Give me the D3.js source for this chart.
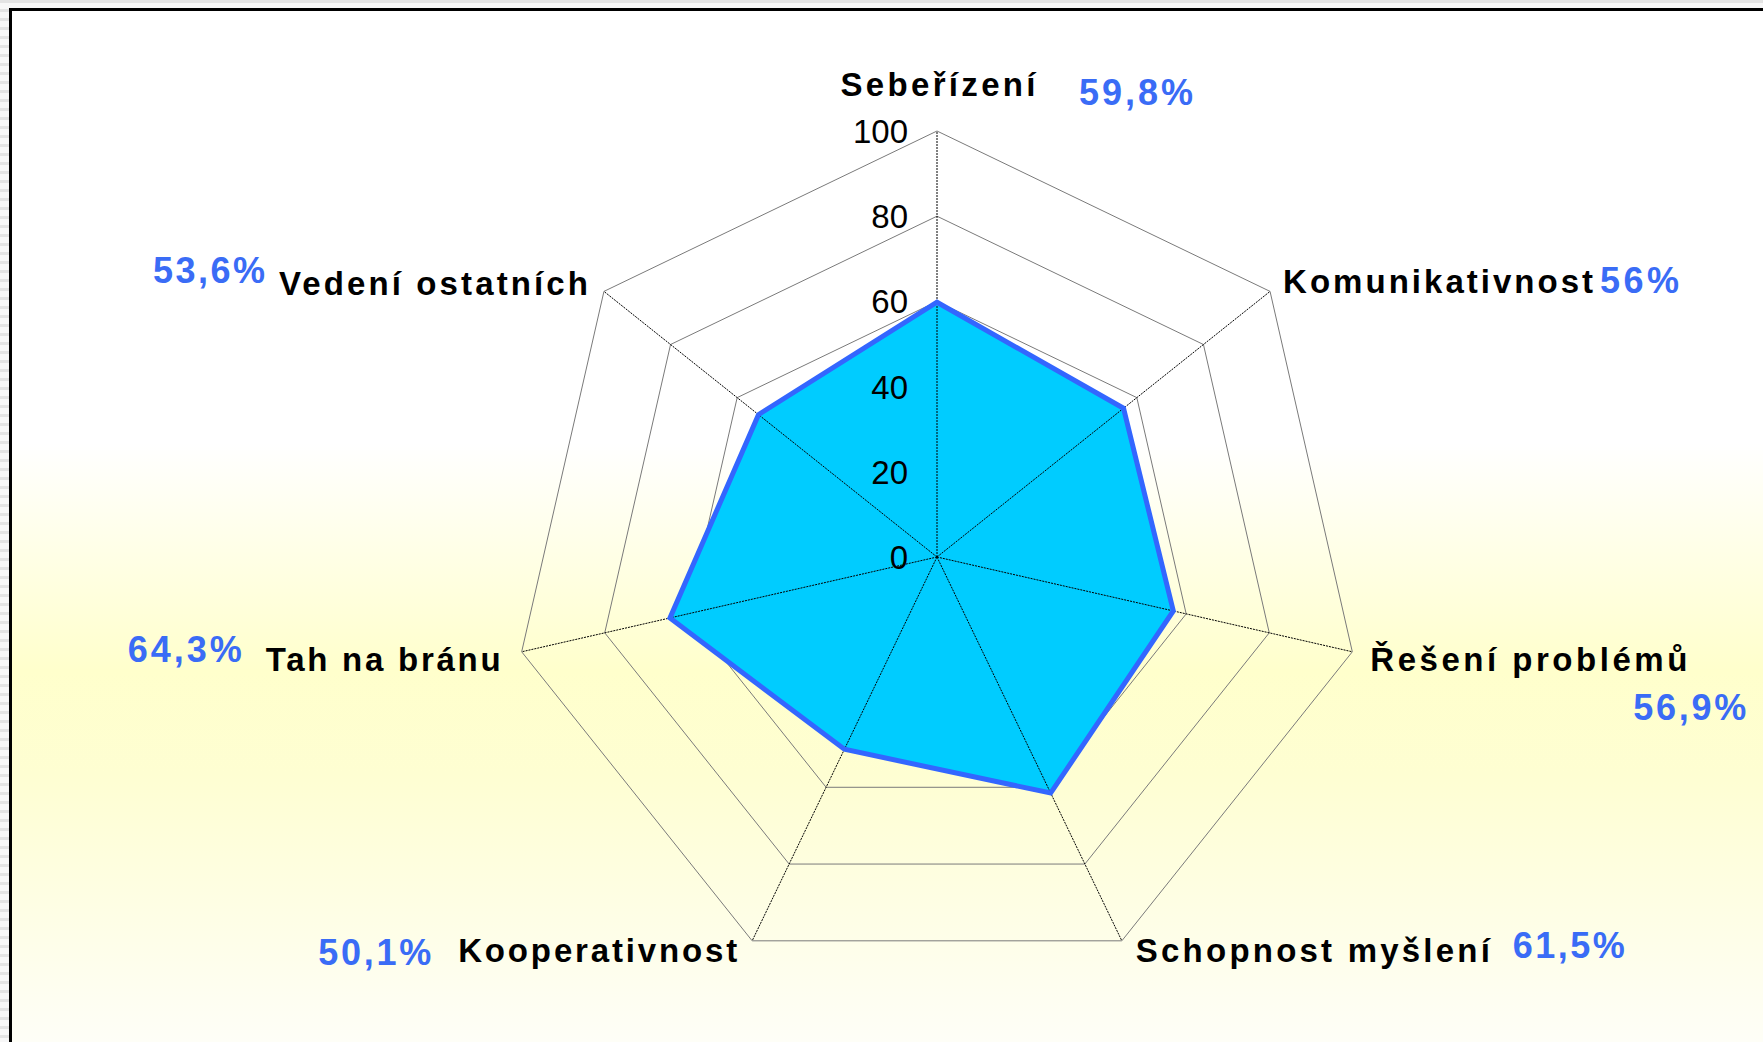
<!DOCTYPE html>
<html>
<head>
<meta charset="utf-8">
<script src="https://cdn.jsdelivr.net/npm/d3@7"></script>
<style>
  html, body { margin: 0; padding: 0; background: #ffffff; }
  svg { display: block; }
  text { font-family: "Liberation Sans", Arial, sans-serif; }
</style>
</head>
<body>
<svg id="chart" width="1763" height="1042"></svg>
<script>
// ---- data ----
const categories = ["Sebeřízení", "Komunikativnost", "Řešení problémů", "Schopnost myšlení", "Kooperativnost", "Tah na bránu", "Vedení ostatních"];
const values = [59.8, 56, 56.9, 61.5, 50.1, 64.3, 53.6];
const percentLabels = ["59,8%", "56%", "56,9%", "61,5%", "50,1%", "64,3%", "53,6%"];
const tickValues = [0, 20, 40, 60, 80, 100];

// ---- layout (positions / styles) ----
const W = 1763, H = 1042;
const cx = 937, cy = 557, R = 426;
// label placement relative to the 100-ring vertex: [dx, dy, anchor, textLength]
const catLayout = [
  [1, -35, "middle", 195],
  [13, 2, "start", 310],
  [18, 19, "start", 317],
  [14, 21, "start", 354],
  [-15, 21, "end", 279],
  [-21, 19, "end", 235],
  [-16, 4, "end", 309]
];
// percent label placement relative to the 100-ring vertex: [dx, dy, anchor, textLength]
const pctLayout = [
  [142, -26, "start", 114],
  [330, 2, "start", 79],
  [394, 68, "end", 113],
  [391, 17, "start", 112],
  [-321, 24, "end", 113],
  [-280, 10, "end", 114],
  [-339, -8, "end", 112]
];

const svg = d3.select("#chart");
const defs = svg.append("defs");

// outer striped grey area
const pat = defs.append("pattern").attr("id", "stripes")
  .attr("width", 8).attr("height", 9).attr("patternUnits", "userSpaceOnUse");
pat.append("rect").attr("width", 8).attr("height", 9).attr("fill", "#f7f7f7");
pat.append("rect").attr("y", 0).attr("width", 8).attr("height", 3).attr("fill", "#e3e3e3");

const grad = defs.append("linearGradient").attr("id", "bg")
  .attr("x1", 0).attr("y1", 0).attr("x2", 0).attr("y2", 1);
grad.append("stop").attr("offset", "0%").attr("stop-color", "#ffffff");
grad.append("stop").attr("offset", "42%").attr("stop-color", "#ffffff");
grad.append("stop").attr("offset", "64%").attr("stop-color", "#ffffcc");
grad.append("stop").attr("offset", "74%").attr("stop-color", "#fefed2");
grad.append("stop").attr("offset", "100%").attr("stop-color", "#fefef7");

svg.append("rect").attr("width", W).attr("height", H).attr("fill", "url(#stripes)");
svg.append("rect").attr("x", 11).attr("y", 10).attr("width", W - 11).attr("height", H - 10).attr("fill", "url(#bg)");
// frame
svg.append("rect").attr("x", 9).attr("y", 8).attr("width", W).attr("height", 3).attr("fill", "#000");
svg.append("rect").attr("x", 9).attr("y", 8).attr("width", 3).attr("height", H).attr("fill", "#000");

// ---- scales ----
const n = categories.length;
const angle = d3.scaleLinear().domain([0, n]).range([0, 2 * Math.PI]);
const r = d3.scaleLinear().domain([0, 100]).range([0, R]);

const g = svg.append("g").attr("transform", `translate(${cx},${cy})`);
const pt = (i, v) => [r(v) * Math.sin(angle(i)), -r(v) * Math.cos(angle(i))];

// rings
const ringLine = d3.lineRadial().angle((d, i) => angle(i)).radius(d => r(d)).curve(d3.curveLinearClosed);
g.selectAll("path.ring").data(tickValues.filter(t => t > 0)).join("path")
  .attr("class", "ring")
  .attr("d", t => ringLine(categories.map(() => t)))
  .attr("fill", "none").attr("stroke", "#7a7a7a").attr("stroke-width", 1);

// series fill
const seriesLine = d3.lineRadial().angle((d, i) => angle(i)).radius(d => r(d)).curve(d3.curveLinearClosed);
g.append("path").attr("d", seriesLine(values)).attr("fill", "#00ccff").attr("stroke", "none");

// spokes
g.selectAll("line.spoke").data(categories).join("line")
  .attr("class", "spoke")
  .attr("x1", 0).attr("y1", 0)
  .attr("x2", (d, i) => pt(i, 100)[0]).attr("y2", (d, i) => pt(i, 100)[1])
  .attr("stroke", "#000").attr("stroke-width", 1).attr("stroke-dasharray", "2,1");

// series outline
g.append("path").attr("d", seriesLine(values)).attr("fill", "none")
  .attr("stroke", "#3366ff").attr("stroke-width", 5).attr("stroke-linejoin", "miter");

// tick labels
g.selectAll("text.tick").data(tickValues).join("text")
  .attr("class", "tick")
  .attr("x", -29).attr("y", t => -r(t) + 12)
  .attr("text-anchor", "end")
  .attr("font-size", 33).attr("fill", "#000")
  .text(t => t);

// category labels
g.selectAll("text.cat").data(categories).join("text")
  .attr("class", "cat")
  .attr("x", (d, i) => pt(i, 100)[0] + catLayout[i][0])
  .attr("y", (d, i) => pt(i, 100)[1] + catLayout[i][1])
  .attr("text-anchor", (d, i) => catLayout[i][2])
  .attr("textLength", (d, i) => catLayout[i][3])
  .attr("lengthAdjust", "spacing")
  .attr("font-size", 33).attr("font-weight", "bold").attr("fill", "#000")
  .text(d => d);

// percent labels
g.selectAll("text.pct").data(percentLabels).join("text")
  .attr("class", "pct")
  .attr("x", (d, i) => pt(i, 100)[0] + pctLayout[i][0])
  .attr("y", (d, i) => pt(i, 100)[1] + pctLayout[i][1])
  .attr("text-anchor", (d, i) => pctLayout[i][2])
  .attr("textLength", (d, i) => pctLayout[i][3])
  .attr("lengthAdjust", "spacing")
  .attr("font-size", 36).attr("font-weight", "bold").attr("fill", "#3a6cf6")
  .text(d => d);
</script>
</body>
</html>
